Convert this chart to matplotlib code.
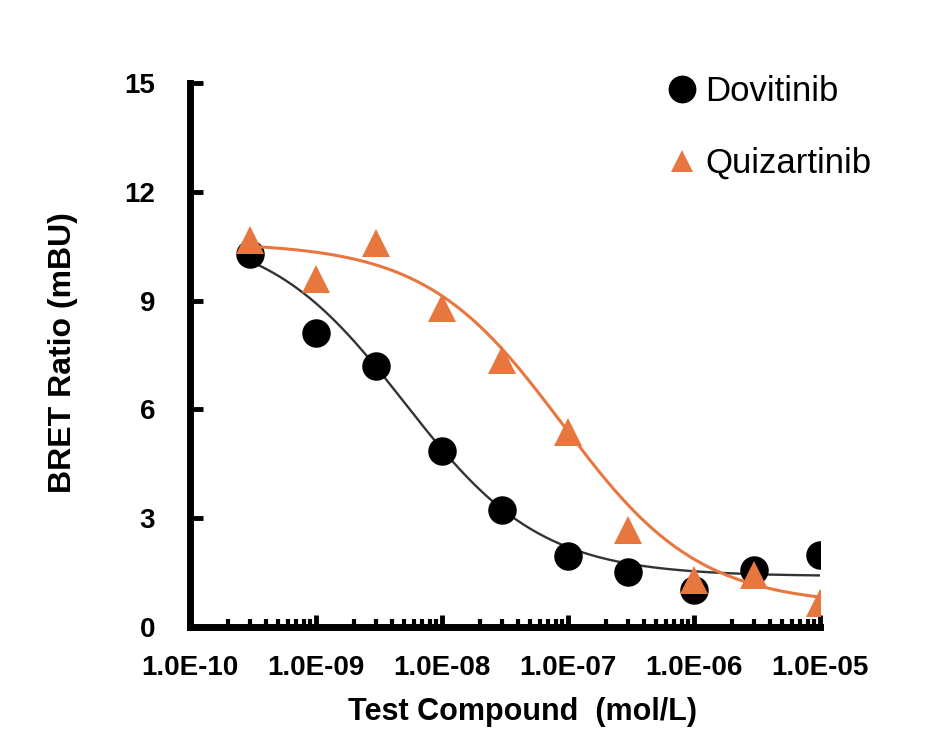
import numpy as np
import matplotlib
matplotlib.use("Agg")
import matplotlib.pyplot as plt
from matplotlib.lines import Line2D
from matplotlib.ticker import LogLocator, FixedLocator, NullFormatter

plt.rcParams['font.family'] = ['Liberation Sans', 'DejaVu Sans']

# Data
conc = [3e-10, 1e-9, 3e-9, 1e-8, 3e-8, 1e-7, 3e-7, 1e-6, 3e-6, 1e-5]
dovitinib = [10.28, 8.1, 7.2, 4.85, 3.23, 1.96, 1.52, 1.02, 1.57, 1.98]
quizartinib = [10.67, 9.6, 10.6, 8.8, 7.36, 5.38, 2.67, 1.3, 1.43, 0.66]

# 4-parameter logistic fit parameters (top, bottom, IC50, hill)
dov_fit = (11.0, 1.4, 5e-9, 0.8)
quiz_fit = (10.6, 0.6, 9e-8, 0.8)

xticks = [1e-10, 1e-9, 1e-8, 1e-7, 1e-6, 1e-5]
xticklabels = ['1.0E-10', '1.0E-09', '1.0E-08', '1.0E-07', '1.0E-06', '1.0E-05']
yticks = [0, 3, 6, 9, 12, 15]
series_names = ['Dovitinib', 'Quizartinib']


def four_pl(x, p):
    top, bottom, ic50, h = p
    return bottom + (top - bottom) / (1 + (x / ic50) ** h)


fig = plt.figure(figsize=(9.34, 7.29), dpi=100)
ax = fig.add_axes([190 / 934, 1 - 627 / 729, 630 / 934, 544 / 729])

xs = np.logspace(np.log10(conc[0]), np.log10(conc[-1]), 300)
orange = '#E8773F'

ax.plot(xs, four_pl(xs, dov_fit), color='#333333', lw=1.7, zorder=2)
ax.plot(conc, dovitinib, 'o', color='black', markersize=19.5, zorder=3)
ax.plot(xs, four_pl(xs, quiz_fit), color=orange, lw=2.2, zorder=4)
ax.plot(conc, quizartinib, '^', color=orange, markersize=20, markeredgewidth=0,
        zorder=5)

ax.set_xscale('log')
ax.set_xlim(1e-10, 1e-5)
ax.set_ylim(0, 15)

ax.xaxis.set_major_locator(FixedLocator(xticks))
ax.set_xticklabels(xticklabels)
ax.xaxis.set_minor_locator(LogLocator(base=10, subs=np.arange(2, 10)))
ax.xaxis.set_minor_formatter(NullFormatter())
ax.set_yticks(yticks)

for s in ['top', 'right']:
    ax.spines[s].set_visible(False)
for s in ['left', 'bottom']:
    ax.spines[s].set_linewidth(5)
    ax.spines[s].set_capstyle('projecting')

ax.tick_params(axis='both', which='major', direction='in', length=9, width=3.5,
               labelsize=20)
ax.tick_params(axis='x', which='minor', direction='in', length=5.5, width=3)
ax.tick_params(axis='x', which='major', pad=20)
ax.tick_params(axis='y', which='major', pad=25)
for lab in ax.get_xticklabels() + ax.get_yticklabels():
    lab.set_fontweight('bold')

ax.set_ylabel('BRET Ratio (mBU)', fontsize=23, fontweight='bold')
ax.yaxis.set_label_coords(78 / 934, 1 - 353 / 729, transform=fig.transFigure)
fig.text(522 / 934, 2 / 729, 'Test Compound  (mol/L)', fontsize=22,
         fontweight='bold', ha='center', va='bottom')

handles = [
    Line2D([], [], ls='none', marker='o', color='black', markersize=19),
    Line2D([], [], ls='none', marker='^', color=orange, markersize=16,
           markeredgewidth=0),
]
leg = ax.legend(handles, series_names, loc='upper left',
                bbox_to_anchor=(668 / 934, 1 - 75 / 729),
                bbox_transform=fig.transFigure, frameon=False, fontsize=25,
                handlelength=0.8, handletextpad=0.27,
                labelspacing=1.12, borderpad=0, borderaxespad=0)

fig.savefig('out.png', dpi=100)
